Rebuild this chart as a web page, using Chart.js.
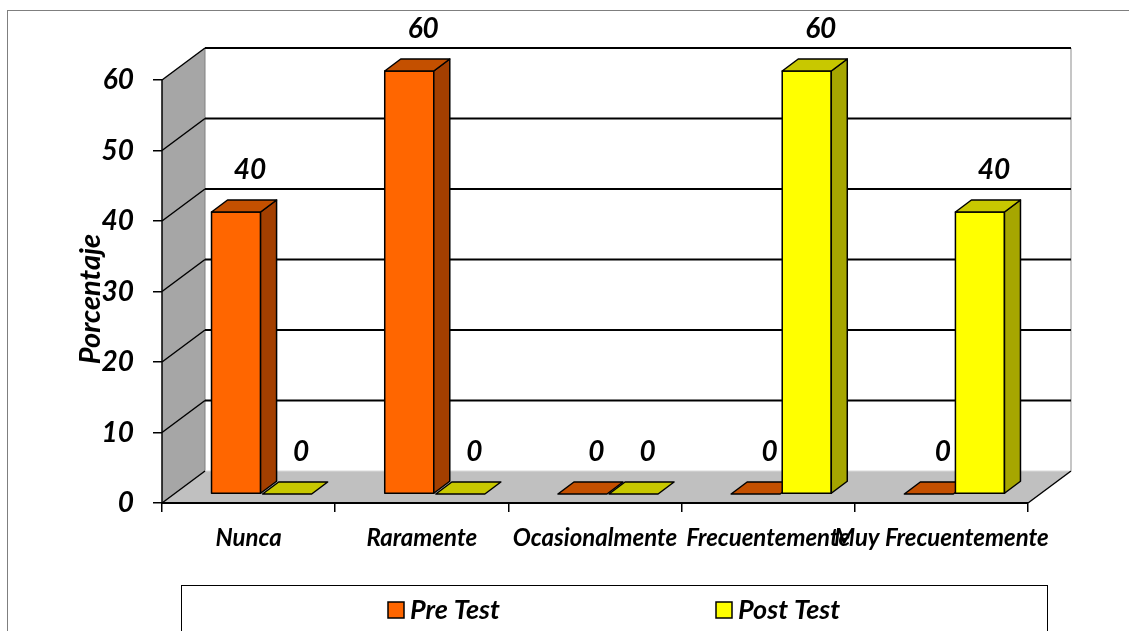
<!DOCTYPE html>
<html><head><meta charset="utf-8">
<script src="https://cdn.jsdelivr.net/npm/chart.js@4"></script>
<style>html,body{margin:0;padding:0;background:#fff;overflow:hidden}canvas{display:block}</style>
</head><body>
<canvas id="c" width="1129" height="631"></canvas>
<script>
const categories = ['Nunca', 'Raramente', 'Ocasionalmente', 'Frecuentemente', 'Muy Frecuentemente'];
const preTest = [40, 60, 0, 0, 0];
const postTest = [0, 0, 0, 60, 40];
const seriesNames = ['Pre Test', 'Post Test'];
const yTicks = [0, 10, 20, 30, 40, 50, 60];
const axisTitle = 'Porcentaje';

const FONT = 'Lato, "Open Sans", sans-serif';
const palette = [
  { front: '#FF6600', side: '#A33F00', top: '#C45000' },
  { front: '#FFFF00', side: '#A6A600', top: '#C8C800' }
];
const WALL = { dx: 43, dy: -32 };
const BAR_OFF = { dx: 13, dy: -9 };
const BAR_DEPTH = { dx: 16, dy: -12 };

function poly(ctx, pts, fill, stroke, lw) {
  ctx.beginPath();
  ctx.moveTo(pts[0][0], pts[0][1]);
  for (let i = 1; i < pts.length; i++) ctx.lineTo(pts[i][0], pts[i][1]);
  ctx.closePath();
  if (fill) { ctx.fillStyle = fill; ctx.fill(); }
  if (stroke) { ctx.strokeStyle = stroke; ctx.lineWidth = lw || 1.5; ctx.lineJoin = 'round'; ctx.stroke(); }
}
function line(ctx, x1, y1, x2, y2, color, lw) {
  ctx.beginPath(); ctx.moveTo(x1, y1); ctx.lineTo(x2, y2);
  ctx.strokeStyle = color; ctx.lineWidth = lw; ctx.stroke();
}

const scenePlugin = {
  id: 'scene3d',
  beforeDatasetsDraw(chart) {
    const ctx = chart.ctx, a = chart.chartArea, ys = chart.scales.y;
    const L = a.left, R = a.right, T = a.top, B = a.bottom;
    ctx.save();
    poly(ctx, [[L, T], [L + WALL.dx, T + WALL.dy], [L + WALL.dx, B + WALL.dy], [L, B]], '#A6A6A6');
    line(ctx, L + WALL.dx, T + WALL.dy, L + WALL.dx, B + WALL.dy, '#808080', 1);
    poly(ctx, [[L, B], [R, B], [R + WALL.dx, B + WALL.dy], [L + WALL.dx, B + WALL.dy]], '#C0C0C0');
    line(ctx, L + WALL.dx, B + WALL.dy, R + WALL.dx, B + WALL.dy, '#D9D9D9', 1);
    line(ctx, R, B, R + WALL.dx, B + WALL.dy, '#000', 1.5);
    line(ctx, R + WALL.dx, T + WALL.dy, R + WALL.dx, B + WALL.dy, '#A0A0A0', 1.2);
    yTicks.forEach(v => {
      const y = ys.getPixelForValue(v);
      if (v > 0) line(ctx, L + WALL.dx, y + WALL.dy, R + WALL.dx, y + WALL.dy, '#000', 2);
      line(ctx, L, y, L + WALL.dx, y + WALL.dy, '#000', 1.5);
    });
    line(ctx, L, T, L, B, '#000', 1.5);
    line(ctx, L, B, R, B, '#000', 2);
    ctx.restore();
  },
  afterDatasetsDraw(chart) {
    const ctx = chart.ctx;
    ctx.save();
    const n = categories.length;
    for (let i = 0; i < n; i++) {
      chart.data.datasets.forEach((ds, di) => {
        const el = chart.getDatasetMeta(di).data[i];
        const c = palette[di];
        const l = el.x - el.width / 2 + BAR_OFF.dx, r = el.x + el.width / 2 + BAR_OFF.dx;
        const top = el.y + BAR_OFF.dy, bot = el.base + BAR_OFF.dy;
        const dx = BAR_DEPTH.dx, dy = BAR_DEPTH.dy;
        if (bot - top > 0.5) {
          poly(ctx, [[l, top], [r, top], [r, bot], [l, bot]], c.front, '#000', 1.5);
          poly(ctx, [[r, top], [r + dx, top + dy], [r + dx, bot + dy], [r, bot]], c.side, '#000', 1.5);
        }
        poly(ctx, [[l, top], [l + dx, top + dy], [r + dx, top + dy], [r, top]], c.top, '#000', 1.5);
      });
    }
    ctx.fillStyle = '#000';
    ctx.font = 'italic bold 28px ' + FONT;
    ctx.textAlign = 'center';
    ctx.textBaseline = 'middle';
    chart.data.datasets.forEach((ds, di) => {
      chart.getDatasetMeta(di).data.forEach((el, i) => {
        const x = el.x + BAR_OFF.dx + BAR_DEPTH.dx / 2 + 6;
        const y = el.y + BAR_OFF.dy - 42;
        ctx.fillText(String(ds.data[i]), x, y);
      });
    });
    ctx.restore();
  },
  afterDraw(chart) {
    const ctx = chart.ctx, a = chart.chartArea;
    ctx.save();
    ctx.translate(91, 299);
    ctx.rotate(-Math.PI / 2);
    ctx.font = 'italic bold 29px ' + FONT;
    ctx.fillStyle = '#000';
    ctx.textAlign = 'center';
    ctx.textBaseline = 'middle';
    ctx.fillText(axisTitle, 0, 0);
    ctx.restore();

    ctx.save();
    ctx.strokeStyle = '#7f7f7f'; ctx.lineWidth = 1;
    ctx.strokeRect(7.5, 10.5, 1300, 800);
    ctx.strokeStyle = '#000'; ctx.lineWidth = 1;
    ctx.strokeRect(181.5, 585.5, 866, 80);
    const items = [{ x: 388 }, { x: 716 }];
    ctx.font = 'italic bold 27px ' + FONT;
    ctx.textAlign = 'left';
    ctx.textBaseline = 'middle';
    seriesNames.forEach((name, i) => {
      const x = items[i].x;
      ctx.fillStyle = palette[i].front;
      ctx.fillRect(x, 602, 16, 16);
      ctx.strokeStyle = '#000'; ctx.lineWidth = 1.5;
      ctx.strokeRect(x, 602, 16, 16);
      ctx.fillStyle = '#000';
      ctx.fillText(name, x + 22, 610);
    });
    ctx.restore();
  }
};

new Chart(document.getElementById('c'), {
  type: 'bar',
  data: {
    labels: categories,
    datasets: [
      { label: seriesNames[0], data: preTest, backgroundColor: 'rgba(0,0,0,0)', borderWidth: 0 },
      { label: seriesNames[1], data: postTest, backgroundColor: 'rgba(0,0,0,0)', borderWidth: 0 }
    ]
  },
  options: {
    responsive: false,
    animation: false,
    devicePixelRatio: 1,
    events: [],
    categoryPercentage: 0.59,
    barPercentage: 0.96,
    layout: { padding: { left: 0, top: 80, right: 101, bottom: 0 } },
    plugins: { legend: { display: false }, tooltip: { enabled: false }, title: { display: false } },
    scales: {
      x: {
        afterFit: s => { s.height = 128; },
        border: { display: false },
        grid: { offset: true, drawOnChartArea: false, drawTicks: true, tickLength: 9, color: '#000', lineWidth: 1.5 },
        ticks: { autoSkip: false, maxRotation: 0, minRotation: 0, padding: 12, color: '#000',
                 font: { family: FONT, size: 24, weight: 'bold', style: 'italic' } }
      },
      y: {
        min: 0, max: 60,
        afterFit: s => { s.width = 162; },
        border: { display: false },
        grid: { drawOnChartArea: false, drawTicks: true, tickLength: 9, color: '#000', lineWidth: 1.5 },
        ticks: { stepSize: 10, padding: 19, color: '#000',
                 font: { family: FONT, size: 28, weight: 'bold', style: 'italic' } }
      }
    }
  },
  plugins: [scenePlugin]
});
</script>
</body></html>
